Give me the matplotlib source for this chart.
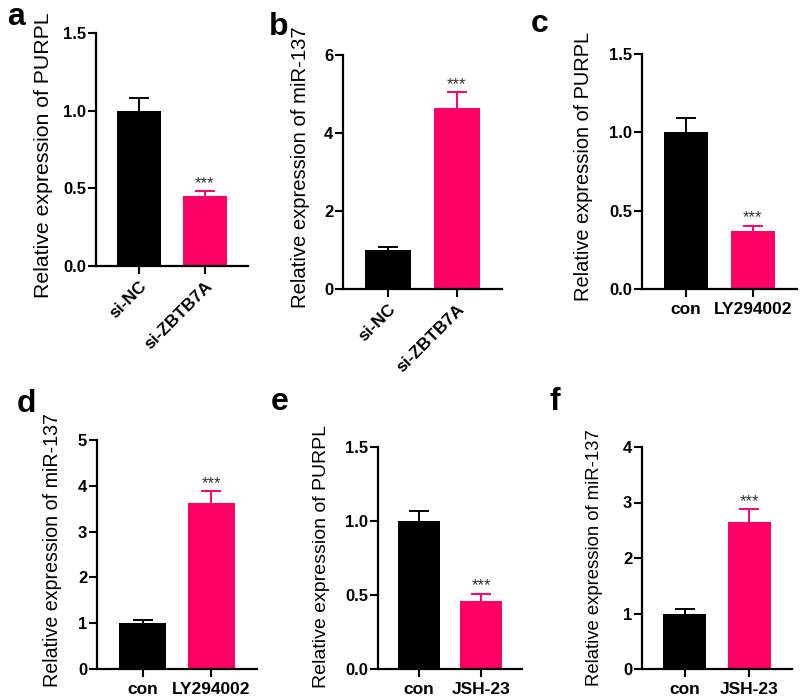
import matplotlib
matplotlib.use("Agg")
import matplotlib.pyplot as plt

plt.rcParams["font.family"] = ["Liberation Sans", "DejaVu Sans"]

W, H = 800, 699
BLACK = "#000000"
PINK = "#FF0066"

# data: (control, treatment) means and upper SD
letters = ["a", "b", "c", "d", "e", "f"]
ylabels = ["Relative expression of PURPL", "Relative expression of miR-137",
           "Relative expression of PURPL", "Relative expression of miR-137",
           "Relative expression of PURPL", "Relative expression of miR-137"]
groups = [["si-NC", "si-ZBTB7A"], ["si-NC", "si-ZBTB7A"],
          ["con", "LY294002"], ["con", "LY294002"],
          ["con", "JSH-23"], ["con", "JSH-23"]]
means = [[1.00, 0.45], [1.00, 4.65], [1.00, 0.37],
         [1.00, 3.62], [1.00, 0.46], [1.00, 2.65]]
errs = [[0.08, 0.035], [0.08, 0.40], [0.09, 0.035],
        [0.08, 0.27], [0.07, 0.05], [0.08, 0.23]]
ymax = [1.5, 6, 1.5, 5, 1.5, 4]
yticks = [[0, 0.5, 1.0, 1.5], [0, 2, 4, 6], [0, 0.5, 1.0, 1.5],
          [0, 1, 2, 3, 4, 5], [0, 0.5, 1.0, 1.5], [0, 1, 2, 3, 4]]
ytick_fmt = ["{:.1f}", "{:.0f}", "{:.1f}", "{:.0f}", "{:.1f}", "{:.0f}"]
rotate = [True, True, False, False, False, False]

# axes boxes in pixels: left, right, top (at ymax), bottom (at 0)
boxes = [(96, 248, 33, 266), (343, 502, 55, 289), (642, 797, 54, 289),
         (97, 257, 440, 669), (378, 522, 447, 669), (642, 792, 447, 669)]
# y label: right edge in px left of the axis, vertical centre, font size
ylab_off = [43, 33, 49, 35, 48, 39]
ylab_y = [0.476, 0.519, 0.521, 0.52, 0.505, 0.502]
ylab_size = [15.3, 14.6, 14.4, 14.1, 14.0, 13.3]
# panel letter positions in pixels (left, baseline)
letter_pos = [(7, 25), (269, 35), (531, 32), (17, 412), (271, 410), (549, 410)]

fig = plt.figure(figsize=(W / 100, H / 100), dpi=100)
fig.patch.set_facecolor("white")

for i in range(6):
    l, r, t, b = boxes[i]
    ax = fig.add_axes([l / W, 1 - b / H, (r - l) / W, (b - t) / H])
    x = [0, 1]
    ax.bar(x, means[i], width=0.67, color=[BLACK, PINK], zorder=2)
    for xi, m, e, c in zip(x, means[i], errs[i], [BLACK, PINK]):
        ax.plot([xi, xi], [m, m + e], color=c, lw=1.4, zorder=3,
                solid_capstyle="butt")
        ax.plot([xi], [m + e], marker="_", markersize=15, mew=1.4,
                color=c, zorder=3)
    # significance marker on the treatment bar
    ax.annotate("***", xy=(1, means[i][1] + errs[i][1]), xytext=(0, 0),
                textcoords="offset points", ha="center", va="bottom",
                fontsize=12, color="#333333")

    ax.set_xlim(-0.66, 1.66)
    ax.set_ylim(0, ymax[i])
    ax.set_yticks(yticks[i])
    ax.set_yticklabels([ytick_fmt[i].format(v) for v in yticks[i]],
                       fontsize=12, fontweight="bold")
    ax.set_xticks(x)
    if rotate[i]:
        ax.set_xticklabels(groups[i], rotation=45, ha="right",
                           rotation_mode="anchor", fontsize=12.5,
                           fontweight="bold")
    else:
        ax.set_xticklabels(groups[i], fontsize=12.5, fontweight="bold")
    ax.tick_params(axis="y", length=6, width=1.5, pad=1)
    ax.tick_params(axis="x", length=6, width=1.5, pad=3)
    ax.set_ylabel(ylabels[i], fontsize=ylab_size[i])
    ax.yaxis.set_label_coords(-ylab_off[i] / (r - l), ylab_y[i])
    for s in ["top", "right"]:
        ax.spines[s].set_visible(False)
    for s in ["left", "bottom"]:
        ax.spines[s].set_linewidth(1.6)

    lx, ly = letter_pos[i]
    fig.text(lx / W, 1 - ly / H, letters[i], fontsize=23, fontweight="bold",
             ha="left", va="baseline")

fig.savefig("out.png", dpi=100, facecolor="white")
